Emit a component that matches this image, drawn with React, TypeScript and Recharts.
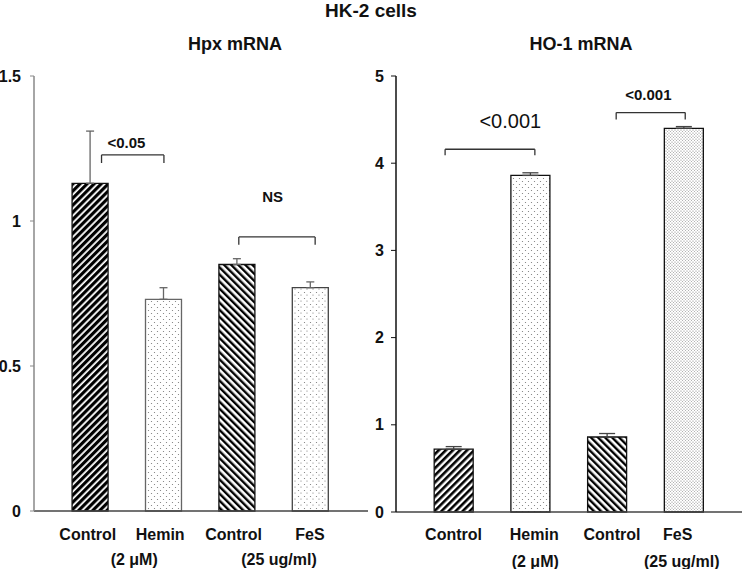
import {
  BarChart,
  Bar,
  Cell,
  XAxis,
  YAxis,
  ErrorBar,
  ReferenceLine,
  ReferenceDot,
} from 'recharts';

const categories = ['Control', 'Hemin', 'Control', 'FeS'];
const subLabels = ['', '(2 μM)', '', '(25 ug/ml)'];
const positions = [1, 2, 3, 4];

const hpxValues = [1.13, 0.73, 0.85, 0.77];
const hpxErrors = [0.18, 0.04, 0.02, 0.02];
const hpxTicks = [0, 0.5, 1, 1.5];

const ho1Values = [0.72, 3.86, 0.86, 4.4];
const ho1Errors = [0.03, 0.03, 0.04, 0.02];
const ho1Ticks = [0, 1, 2, 3, 4, 5];

const FONT = '"Liberation Sans", Arial, sans-serif';

type Row = { x: number; value: number; err: [number, number] };

function buildRows(values: number[], errors: number[]): Row[] {
  return positions.map((x, i) => ({ x, value: values[i], err: [0, errors[i]] }));
}

const hpxData = buildRows(hpxValues, hpxErrors);
const ho1Data = buildRows(ho1Values, ho1Errors);

// label nudges relative to bar centre (main line, second line)
const hpxLabelShift = [[-2, 0], [-3, -29], [-3, 0], [0, -31]];
const ho1LabelShift = [[0, 0], [4, 5], [5, 0], [-6, -2]];

function makeTick(shift: number[][], dy1: number, dy2: number) {
  // eslint-disable-next-line @typescript-eslint/no-explicit-any
  return function Tick(props: any) {
    const { x, y, payload } = props;
    const i = positions.indexOf(payload.value);
    if (i < 0) return <g />;
    return (
      <g>
        <text x={x + shift[i][0]} y={y + dy1} textAnchor="middle" fontFamily={FONT} fontWeight="bold" fontSize={16} fill="#111">
          {categories[i]}
        </text>
        {subLabels[i] && (
          <text x={x + shift[i][1]} y={y + dy2} textAnchor="middle" fontFamily={FONT} fontWeight="bold" fontSize={16} fill="#111">
            {subLabels[i]}
          </text>
        )}
      </g>
    );
  };
}

function Patterns({ prefix, denseLast }: { prefix: string; denseLast: boolean }) {
  return (
    <defs>
      <pattern id={`${prefix}-fwd`} width="5" height="5" patternUnits="userSpaceOnUse" patternTransform="rotate(45)">
        <rect width="5" height="5" fill="#fff" />
        <rect width={prefix === 'hpx' ? 3.2 : 2.6} height="5" fill="#000" />
      </pattern>
      <pattern id={`${prefix}-back`} width="5" height="5" patternUnits="userSpaceOnUse" patternTransform="rotate(-45)">
        <rect width="5" height="5" fill="#fff" />
        <rect width="2.4" height="5" fill="#000" />
      </pattern>
      <pattern id={`${prefix}-dots`} width="6" height="6" patternUnits="userSpaceOnUse">
        <rect width="6" height="6" fill="#fff" />
        <circle cx="1.5" cy="1.5" r="0.6" fill="#777" />
        <circle cx="4.5" cy="4.5" r="0.6" fill="#777" />
      </pattern>
      <pattern id={`${prefix}-dots2`} width={denseLast ? 3 : 6} height={denseLast ? 3 : 6} patternUnits="userSpaceOnUse">
        <rect width="6" height="6" fill="#fff" />
        <circle cx="1" cy="1" r="0.6" fill="#777" />
        {denseLast ? <circle cx="2.5" cy="2.5" r="0.5" fill="#999" /> : <circle cx="4.5" cy="4.5" r="0.6" fill="#777" />}
      </pattern>
    </defs>
  );
}

function bracketLines(key: string, x1: number, x2: number, y: number, legY: number) {
  const s = { stroke: '#333', strokeWidth: 1.3, ifOverflow: 'visible' as const };
  return [
    <ReferenceLine key={`${key}-h`} segment={[{ x: x1, y }, { x: x2, y }]} {...s} />,
    <ReferenceLine key={`${key}-l`} segment={[{ x: x1, y }, { x: x1, y: legY }]} {...s} />,
    <ReferenceLine key={`${key}-r`} segment={[{ x: x2, y }, { x: x2, y: legY }]} {...s} />,
  ];
}

function note(key: string, x: number, y: number, text: string, size: number, bold: boolean) {
  return (
    <ReferenceDot
      key={key}
      x={x}
      y={y}
      r={0}
      fill="none"
      stroke="none"
      ifOverflow="visible"
      label={{ value: text, position: 'center', fontFamily: FONT, fontSize: size, fontWeight: bold ? 'bold' : 'normal', fill: '#111' }}
    />
  );
}

const yTickStyle = { fontFamily: FONT, fontSize: 16, fontWeight: 'bold', fill: '#111' };

export default function App() {
  const hpxFills = ['url(#hpx-fwd)', 'url(#hpx-dots)', 'url(#hpx-back)', 'url(#hpx-dots2)'];
  const ho1Fills = ['url(#ho1-fwd)', 'url(#ho1-dots)', 'url(#ho1-back)', 'url(#ho1-dots2)'];
  const hpxStroke = ['#111', '#666', '#111', '#444'];

  return (
    <div style={{ position: 'absolute', left: 0, top: 0, width: 742, height: 569, background: '#fff', fontFamily: FONT }}>
      <div style={{ position: 'absolute', left: 0, width: 742, top: 0, textAlign: 'center', fontWeight: 'bold', fontSize: 19, color: '#111' }}>
        HK-2 cells
      </div>
      <div style={{ position: 'absolute', left: 135, width: 200, top: 34, textAlign: 'center', fontWeight: 'bold', fontSize: 18, color: '#111' }}>
        Hpx mRNA
      </div>
      <div style={{ position: 'absolute', left: 481, width: 200, top: 34, textAlign: 'center', fontWeight: 'bold', fontSize: 18, color: '#111' }}>
        HO-1 mRNA
      </div>

      <div style={{ position: 'absolute', left: 0, top: 0 }}>
        <BarChart width={371} height={569} data={hpxData} margin={{ top: 76, right: 3, bottom: 0, left: 0 }}>
          <Patterns prefix="hpx" denseLast={false} />
          <XAxis
            type="number"
            dataKey="x"
            domain={[0.24, 4.79]}
            ticks={positions}
            allowDataOverflow
            tickLine={false}
            tickSize={0}
            tickMargin={0}
            axisLine={{ stroke: '#444', strokeWidth: 1.5 }}
            tick={makeTick(hpxLabelShift, 29, 54)}
            height={58}
          />
          <YAxis
            type="number"
            domain={[0, 1.5]}
            ticks={hpxTicks}
            width={34}
            tickSize={4}
            tickMargin={9}
            tickLine={{ stroke: '#888' }}
            axisLine={{ stroke: '#888', strokeWidth: 1.5 }}
            tick={yTickStyle}
          />
          <Bar dataKey="value" barSize={36} isAnimationActive={false}>
            {hpxData.map((d, i) => (
              <Cell key={d.x} fill={hpxFills[i]} stroke={hpxStroke[i]} strokeWidth={1.3} />
            ))}
            <ErrorBar dataKey="err" direction="y" width={4} stroke="#666" strokeWidth={1.3} />
          </Bar>
          {bracketLines('b1', 1.16, 2.01, 1.228, 1.2)}
          {bracketLines('b2', 3.03, 4.07, 0.945, 0.918)}
          {note('n1', 1.5, 1.27, '<0.05', 15, true)}
          {note('n2', 3.49, 1.085, 'NS', 15, true)}
        </BarChart>
      </div>

      <div style={{ position: 'absolute', left: 371, top: 0 }}>
        <BarChart width={371} height={569} data={ho1Data} margin={{ top: 76, right: 0, bottom: 0, left: 0 }}>
          <Patterns prefix="ho1" denseLast={true} />
          <XAxis
            type="number"
            dataKey="x"
            domain={[0.25, 4.76]}
            ticks={positions}
            allowDataOverflow
            tickLine={false}
            tickSize={0}
            tickMargin={0}
            axisLine={{ stroke: '#444', strokeWidth: 1.5 }}
            tick={makeTick(ho1LabelShift, 28, 55)}
            height={57}
          />
          <YAxis
            type="number"
            domain={[0, 5]}
            ticks={ho1Ticks}
            width={25}
            tickSize={5}
            tickMargin={7}
            tickLine={{ stroke: '#111' }}
            axisLine={{ stroke: '#111', strokeWidth: 1.5 }}
            tick={yTickStyle}
          />
          <Bar dataKey="value" barSize={39} isAnimationActive={false}>
            {ho1Data.map((d, i) => (
              <Cell key={d.x} fill={ho1Fills[i]} stroke="#111" strokeWidth={1.3} />
            ))}
            <ErrorBar dataKey="err" direction="y" width={8} stroke="#444" strokeWidth={1.3} />
          </Bar>
          {bracketLines('c1', 0.89, 2.06, 4.16, 4.09)}
          {bracketLines('c2', 3.12, 4.02, 4.58, 4.5)}
          {note('m1', 1.74, 4.48, '<0.001', 20, false)}
          {note('m2', 3.54, 4.79, '<0.001', 15, true)}
        </BarChart>
      </div>
    </div>
  );
}
